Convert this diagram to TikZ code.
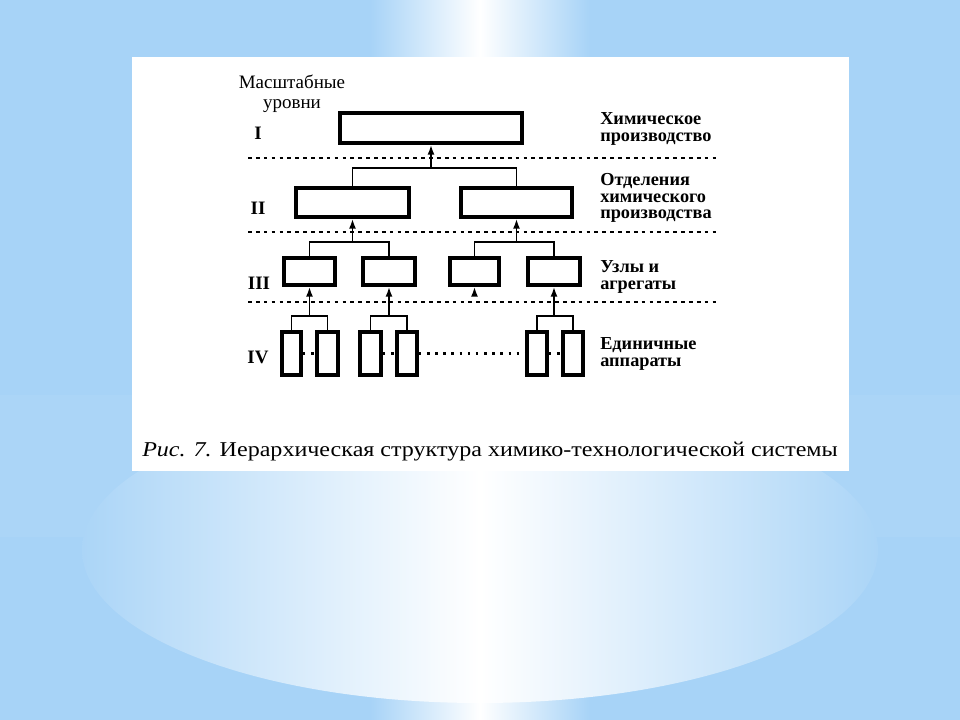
\documentclass[tikz,border=0pt]{standalone}
\usepackage{fontspec}
\setmainfont{Liberation Serif}
\usetikzlibrary{arrows.meta}
\definecolor{bgblue}{HTML}{A7D3F7}
\definecolor{bgband}{HTML}{ABD5F7}

\begin{document}
\begin{tikzpicture}[x=0.025cm,y=-0.025cm,
	box/.style 2 args={draw,line width=2.6pt,minimum width=#1*0.025cm,minimum height=#2*0.025cm,inner sep=0pt},
	con/.style={line width=1.3pt},
	arr/.style={line width=1.3pt,-{Latex[length=7pt,width=5pt]}},
	sepline/.style={line width=1.8pt,dash pattern=on 2.6pt off 3pt},
	dotrow/.style={line width=1.8pt,dash pattern=on 1.8pt off 4pt},
	lev/.style={font=\fontsize{13.5}{13.5}\selectfont\bfseries},
	lab/.style={anchor=west,align=left,inner sep=0pt,font=\fontsize{13}{12.5}\selectfont\bfseries}]
					\fill[bgblue] (0,0) rectangle (960,720);
					\fill[bgband] (0,395) rectangle (960,537);
					\shade[left color=bgblue,right color=bgblue,middle color=white] (370,0) rectangle (590,720);
					\begin{scope}
						\clip (480,550) ellipse [x radius=398,y radius=153];
						\shade[left color=bgband,right color=bgband,middle color=white] (82,395) rectangle (878,705);
					\end{scope}
					\fill[white] (132,57) rectangle (849,471);
					\node[align=center,inner sep=0pt,font=\fontsize{13.5}{14}\selectfont] (head) at (292,94) {Масштабные\\уровни};
					\node[lev] (l1) at (258,133) {I};
					\node[lev] (l2) at (258,208) {II};
					\node[lev] (l3) at (259,283) {III};
					\node[lev] (l4) at (258,357) {IV};
					\node[lab] (t1) at (600,129) {Химическое\\производство};
					\node[lab] (t2) at (600,198) {Отделения\\[-1pt]химического\\[-1pt]производства};
					\node[lab] (t3) at (600,277) {Узлы и\\агрегаты};
					\node[lab] (t4) at (600,354) {Единичные\\аппараты};
					\draw[sepline] (248,158) -- (718,158);
					\draw[sepline] (248,232) -- (718,232);
					\draw[sepline] (248,302) -- (718,302);
					\node[box={182}{30}] (b1) at (431,128) {};
					\node[box={113}{29}] (b21) at (352.5,202.5) {};
					\node[box={111}{29}] (b22) at (516.5,202.5) {};
					\node[box={51}{27}] (b31) at (309.5,271.5) {};
					\node[box={52}{27}] (b32) at (389,271.5) {};
					\node[box={49}{27}] (b33) at (474.5,271.5) {};
					\node[box={52}{27}] (b34) at (554,271.5) {};
					\node[box={19}{43}] (b41) at (291.5,353.5) {};
					\node[box={21}{43}] (b42) at (327.5,353.5) {};
					\node[box={21}{43}] (b43) at (370.5,353.5) {};
					\node[box={20}{43}] (b44) at (407,353.5) {};
					\node[box={20}{43}] (b45) at (537,353.5) {};
					\node[box={20}{43}] (b46) at (573,353.5) {};
					\coordinate (j1) at (431,168);
					\coordinate (j21) at (352.5,242);
					\coordinate (j22) at (516.5,242);
					\coordinate (j31) at (309.5,316);
					\coordinate (j32) at (389,316);
					\coordinate (j33) at (474.5,294);
					\coordinate (j34) at (554,316);
					\draw[con] (b21.north) |- (j1) -| (b22.north);
					\draw[arr] (j1) -- (b1.south);
					\draw[con] (b31.north) |- (j21) -| (b32.north);
					\draw[arr] (j21) -- (b21.south);
					\draw[con] (b33.north) |- (j22) -| (b34.north);
					\draw[arr] (j22) -- (b22.south);
					\draw[con] (b41.north) |- (j31) -| (b42.north);
					\draw[arr] (j31) -- (b31.south);
					\draw[con] (b43.north) |- (j32) -| (b44.north);
					\draw[arr] (j32) -- (b32.south);
					\draw[con] (b45.north) |- (j34) -| (b46.north);
					\draw[arr] (j34) -- (b34.south);
					\draw[arr] (j33) -- (b33.south);
					\draw[dotrow] (b41) -- (b42);
					\draw[dotrow] (b43) -- (b44);
					\draw[dotrow] (b44) -- (b45);
					\draw[dotrow] (b45) -- (b46);
					\node[anchor=base west,inner sep=0pt,font=\fontsize{15}{15}\selectfont] (cap) at (142,457) {\scalebox{1.14}[1]{\textit{Рис. 7.} Иерархическая структура химико-технологической системы}};
			\end{tikzpicture}
\end{document}
